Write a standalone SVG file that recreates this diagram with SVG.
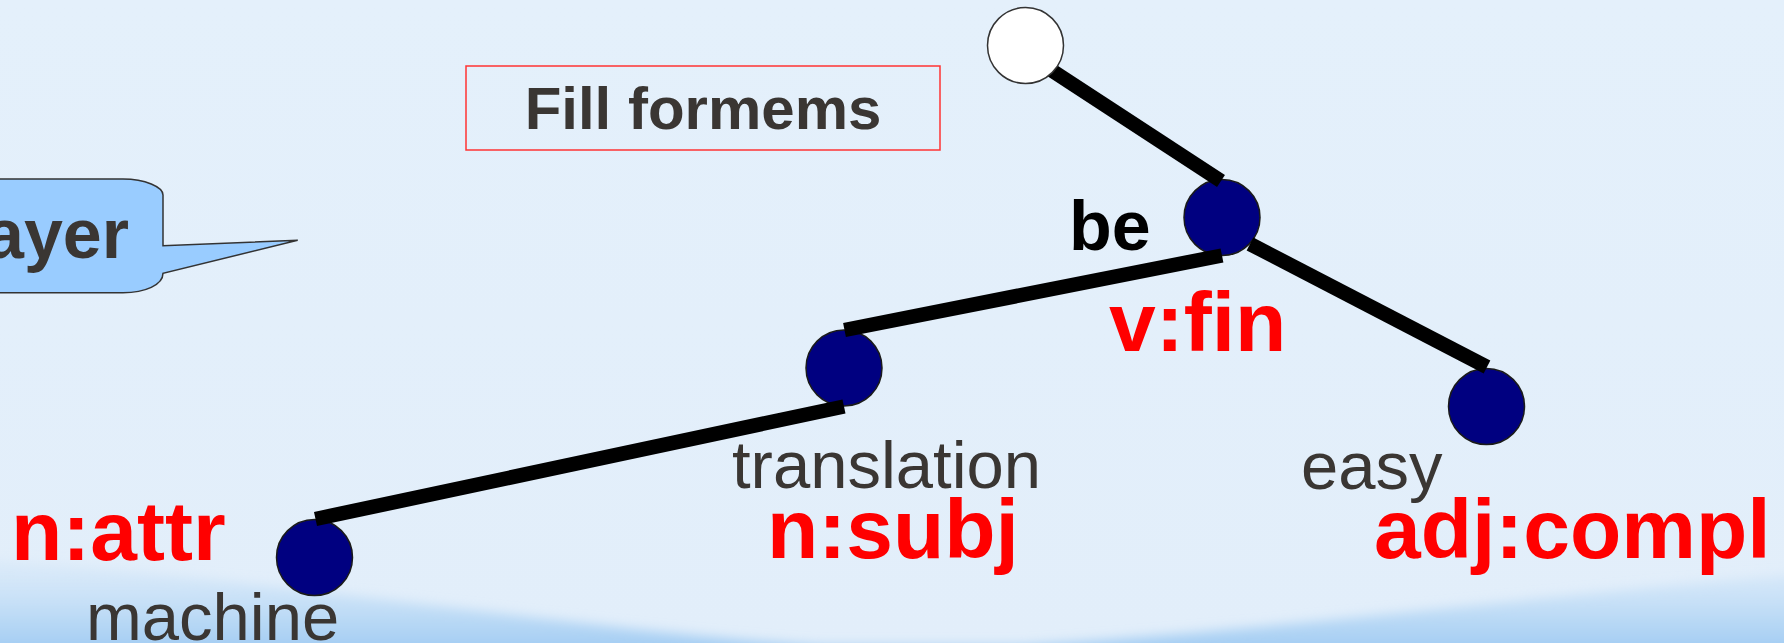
<svg xmlns="http://www.w3.org/2000/svg" width="1784" height="643" viewBox="0 0 1784 643">
<defs>
<linearGradient id="bg" x1="0" y1="0" x2="0" y2="1">
<stop offset="0" stop-color="#e4f0fb"/>
<stop offset="1" stop-color="#e2eefa"/>
</linearGradient>
<linearGradient id="wave" x1="0" y1="0" x2="0" y2="1">
<stop offset="0" stop-color="#cfe4f8" stop-opacity="0.3"/>
<stop offset="0.5" stop-color="#aed3f4" stop-opacity="0.85"/>
<stop offset="1" stop-color="#7fb8ee"/>
</linearGradient>
<filter id="soft" x="-5%" y="-50%" width="110%" height="200%">
<feGaussianBlur stdDeviation="6"/>
</filter>
<style>
.edge{stroke:#000;stroke-width:14.5;stroke-linecap:butt;fill:none}
.node{fill:#000080;stroke:#1a1a1a;stroke-width:1.5}
.root{fill:#fff;stroke:#333;stroke-width:1.5}
.word{font-family:"Liberation Sans",Arial,sans-serif;font-size:67px;fill:#3a3633}
.func{font-family:"Liberation Sans",Arial,sans-serif;font-size:84px;font-weight:bold;fill:#ff0000}
.bold{font-family:"Liberation Sans",Arial,sans-serif;font-weight:bold}
</style>
</defs>
<rect width="1784" height="643" fill="url(#bg)"/>
<path d="M-40,558 C250,575 600,632 820,646 L1020,646 C1300,628 1600,588 1830,572 L1830,690 L-40,690 Z" fill="url(#wave)" filter="url(#soft)"/>

<g id="callout">
<path d="M-20,179 H123 C145,179 163,187 163,195 V245.7 L297.7,240.3 L163,273.3 C163,285 145,292.7 123,292.7 H-20 Z" fill="#99ccff" stroke="#333" stroke-width="1.5"/>
<text class="bold" x="129" y="258" font-size="70" fill="#3a3633" text-anchor="end">ayer</text>
</g>

<g id="title">
<rect x="466" y="66" width="474" height="84" fill="none" stroke="#ff3333" stroke-width="1.5"/>
<text class="bold" x="703" y="129" font-size="60" fill="#3a3633" text-anchor="middle">Fill formems</text>
</g>

<g id="node-be">
<circle class="node" cx="1222" cy="217.5" r="38"/>
<text class="bold" x="1069" y="250" font-size="70" fill="#000">be</text>
<text class="func" x="1109" y="351">v:fin</text>
</g>
<g id="node-translation">
<circle class="node" cx="844" cy="368" r="38"/>
<text class="word" x="732" y="488">translation</text>
<text class="func" x="767" y="558">n:subj</text>
</g>
<g id="node-machine">
<circle class="node" cx="314.5" cy="557.5" r="38"/>
<text class="func" x="11" y="560">n:attr</text>
<text class="word" x="86" y="640">machine</text>
</g>
<g id="node-easy">
<circle class="node" cx="1486.5" cy="406.5" r="38"/>
<text class="word" x="1301" y="489">easy</text>
<text class="func" x="1374" y="558">adj:compl</text>
</g>

<g id="connectors">
<line class="edge" x1="1048" y1="68" x2="1221" y2="181"/>
<line class="edge" x1="1222" y1="255.5" x2="844.5" y2="330"/>
<line class="edge" x1="844" y1="406.5" x2="315.5" y2="519"/>
<line class="edge" x1="1250" y1="244" x2="1487" y2="367"/>
</g>

<g id="node-root">
<circle class="root" cx="1025.5" cy="45.5" r="38"/>
</g>
</svg>
